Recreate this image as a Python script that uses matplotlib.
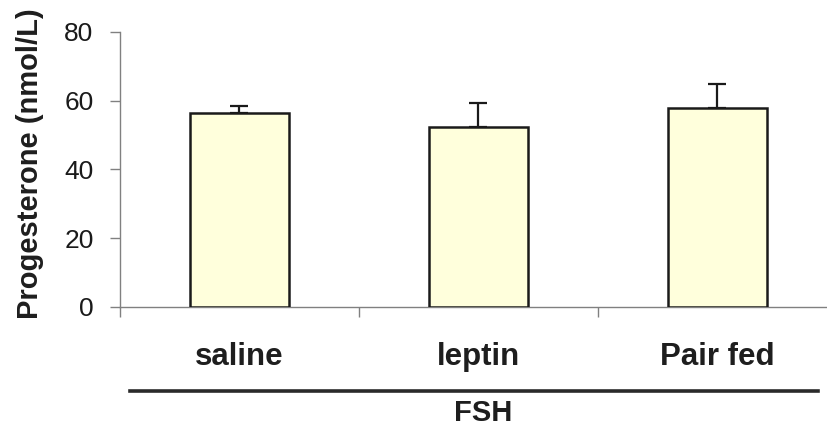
import matplotlib.pyplot as plt
import matplotlib.transforms as mtransforms

categories = ['saline', 'leptin', 'Pair fed']
means = [56.4, 52.3, 57.8]
sem = [2.2, 7.0, 7.0]
yticks = [0, 20, 40, 60, 80]
group_label = 'FSH'

plt.rcParams['font.family'] = ['Liberation Sans', 'DejaVu Sans']

fig = plt.figure(figsize=(8.28, 4.29), dpi=100)
ax = fig.add_axes([120 / 828, 1 - 307 / 429, 708 / 828, 275 / 429])

x = list(range(len(categories)))
ax.bar(x, means, width=0.414, color='#ffffdc', edgecolor='#1a1a1a', linewidth=1.8, zorder=3)
ax.errorbar(x, means, yerr=[[0] * len(sem), sem], fmt='none', ecolor='#1a1a1a',
            elinewidth=1.6, capsize=6.5, capthick=1.6, zorder=2)

ax.set_xlim(-0.5, -0.5 + 708 / 239)
ax.set_ylim(0, 80)
ax.set_yticks(yticks)
ax.tick_params(axis='y', direction='out', length=7, width=1, color='#808080',
               labelsize=19, pad=12, labelcolor='#1a1a1a')

# category boundaries as major ticks, labels on minor ticks at the bar centres
ax.set_xticks([-0.5, 0.5, 1.5])
ax.set_xticklabels([])
ax.set_xticks(x, minor=True)
ax.set_xticklabels(categories, minor=True, fontsize=22.5, fontweight='bold', color='#1e1e1e')
ax.tick_params(axis='x', which='major', direction='out', length=7, width=1, color='#808080')
ax.tick_params(axis='x', which='minor', length=0, pad=25)

for side in ['top', 'right']:
    ax.spines[side].set_visible(False)
for side in ['left', 'bottom']:
    ax.spines[side].set_color('#808080')
    ax.spines[side].set_linewidth(1.0)

ax.set_ylabel('Progesterone (nmol/L)', fontsize=21, fontweight='bold', color='#1e1e1e')
ax.yaxis.set_label_coords(-0.107, 0.52)

# group bracket under the categories
trans = mtransforms.blended_transform_factory(ax.transData, ax.transAxes)
ax.plot([-0.458, 2.42], [-0.305, -0.305], color='#2a2a2a', linewidth=2.6,
        transform=trans, clip_on=False)
ax.text(1.02, -0.385, group_label, transform=trans, ha='center', va='center',
        fontsize=21, fontweight='bold', color='#1e1e1e')

fig.savefig('out.png', dpi=100)
